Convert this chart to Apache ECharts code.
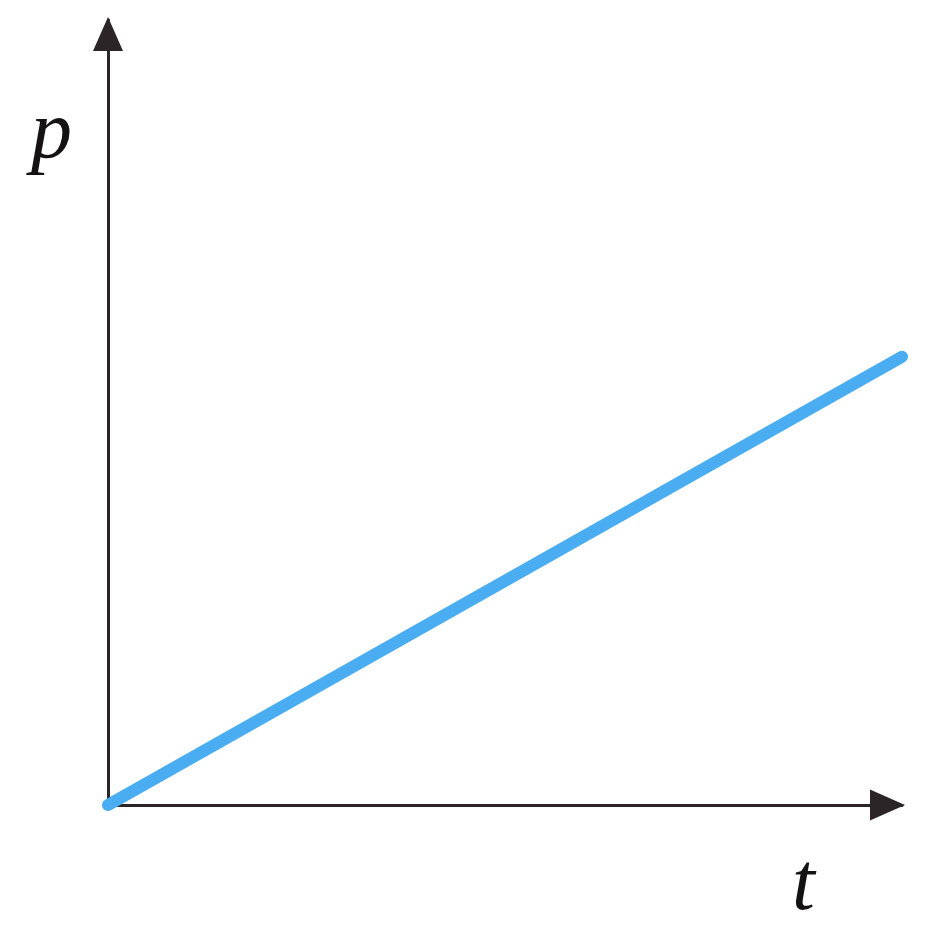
<!DOCTYPE html>
<html>
<head>
<meta charset="utf-8">
<script src="https://cdn.jsdelivr.net/npm/echarts@6/dist/echarts.min.js"></script>
<style>html,body{margin:0;padding:0;background:#fff}#c{width:932px;height:932px}</style>
</head>
<body>
<div id="c"></div>
<script>
// Data
const tValues = [0, 10];
const pValues = [0, 5.71];
const xName = 't';
const yName = 'p';

const chart = echarts.init(document.getElementById('c'));
const axisColor = '#2b2527';
const nameStyle = {
  fontFamily: 'Liberation Serif',
  fontStyle: 'italic',
  fontSize: 82,
  color: '#151213'
};
chart.setOption({
  animation: false,
  backgroundColor: '#ffffff',
  grid: { left: 108, right: 30, top: 20, bottom: 127 },
  xAxis: {
    type: 'value', min: 0, max: 10,
    name: xName, nameLocation: 'end', nameGap: -110,
    nameTextStyle: Object.assign({}, nameStyle, { align: 'left', verticalAlign: 'top', padding: [41, 0, 0, 0] }),
    axisLine: { lineStyle: { color: axisColor, width: 3 }, symbol: ['none', 'triangle'], symbolSize: [31, 35], symbolOffset: [0, -14.5] },
    axisTick: { show: false }, axisLabel: { show: false }, splitLine: { show: false }
  },
  yAxis: {
    type: 'value', min: 0, max: 10,
    name: yName, nameLocation: 'end', nameGap: -115,
    nameTextStyle: Object.assign({}, nameStyle, { align: 'right', verticalAlign: 'middle', padding: [0, 36, 0, 0] }),
    axisLine: { lineStyle: { color: axisColor, width: 3 }, symbol: ['none', 'triangle'], symbolSize: [30, 34], symbolOffset: [0, -14] },
    axisTick: { show: false }, axisLabel: { show: false }, splitLine: { show: false }
  },
  series: [{
    type: 'line',
    data: tValues.map((t, i) => [t, pValues[i]]),
    clip: false,
    showSymbol: false,
    lineStyle: { color: '#4aadf1', width: 12, cap: 'round' },
    z: 5
  }]
});
</script>
</body>
</html>
